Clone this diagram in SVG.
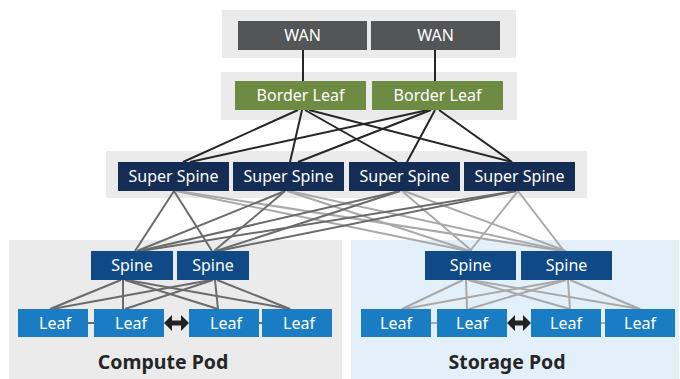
<svg xmlns="http://www.w3.org/2000/svg" width="680" height="379" viewBox="0 0 680 379">
<defs>
<style>
.panel{fill:#ebebeb}
.spanel{fill:#e3f0f9}
.wan{fill:#545556}
.bl{fill:#6e8b44}
.ss{fill:#152d55}
.sp{fill:#0f4a86}
.lf{fill:#1a7dc4}
.t{font-family:"Noto Sans","Liberation Sans",sans-serif;font-size:16px;fill:#fff;text-anchor:middle}
.cap{font-family:"Noto Sans","Liberation Sans",sans-serif;font-size:19.5px;font-weight:bold;fill:#262626;text-anchor:middle}
.dk{stroke:#262626;stroke-width:2;fill:none}
.cg{stroke:#6b6b6b;stroke-width:2;fill:none}
.lg{stroke:#a9a9a9;stroke-width:2;fill:none}
</style>
</defs>
<g id="panels">
<rect class="panel" x="222" y="10" width="294" height="48"/>
<rect class="panel" x="221" y="72" width="296" height="48"/>
<rect class="panel" x="106" y="151" width="481" height="47"/>
<rect class="panel" x="9" y="240" width="333" height="139"/>
<rect class="spanel" x="351" y="240" width="328" height="139"/>
</g>
<g id="connectors">
<line class="dk" x1="303" y1="49" x2="303" y2="81"/>
<line class="dk" x1="435" y1="49" x2="435" y2="81"/>
<line class="dk" x1="298" y1="110" x2="183" y2="162"/>
<line class="dk" x1="302" y1="110" x2="290" y2="162"/>
<line class="dk" x1="305" y1="110" x2="397" y2="162"/>
<line class="dk" x1="309" y1="110" x2="512" y2="162"/>
<line class="dk" x1="428" y1="110" x2="190" y2="162"/>
<line class="dk" x1="431" y1="110" x2="298" y2="162"/>
<line class="dk" x1="435" y1="110" x2="407" y2="162"/>
<line class="dk" x1="439" y1="110" x2="512" y2="162"/>
<line class="lg" x1="176" y1="191" x2="468" y2="251"/>
<line class="lg" x1="178" y1="191" x2="562" y2="251"/>
<line class="lg" x1="287" y1="191" x2="470" y2="251"/>
<line class="lg" x1="289" y1="191" x2="564" y2="251"/>
<line class="lg" x1="402" y1="191" x2="472" y2="251"/>
<line class="lg" x1="404" y1="191" x2="566" y2="251"/>
<line class="lg" x1="518" y1="191" x2="470" y2="251"/>
<line class="lg" x1="518" y1="191" x2="564" y2="251"/>
<line class="cg" x1="174" y1="191" x2="135" y2="251"/>
<line class="cg" x1="174" y1="191" x2="212" y2="251"/>
<line class="cg" x1="285" y1="191" x2="137" y2="251"/>
<line class="cg" x1="285" y1="191" x2="214" y2="251"/>
<line class="cg" x1="400" y1="191" x2="139" y2="251"/>
<line class="cg" x1="400" y1="191" x2="216" y2="251"/>
<line class="cg" x1="516" y1="191" x2="141" y2="251"/>
<line class="cg" x1="516" y1="191" x2="218" y2="251"/>
<line class="cg" x1="121" y1="280" x2="50" y2="309"/>
<line class="cg" x1="123" y1="280" x2="123" y2="309"/>
<line class="cg" x1="125" y1="280" x2="218" y2="309"/>
<line class="cg" x1="127" y1="280" x2="290" y2="309"/>
<line class="cg" x1="211" y1="280" x2="52" y2="309"/>
<line class="cg" x1="213" y1="280" x2="125" y2="309"/>
<line class="cg" x1="215" y1="280" x2="218" y2="309"/>
<line class="cg" x1="217" y1="280" x2="290" y2="309"/>
<line class="lg" x1="463" y1="280" x2="402" y2="309"/>
<line class="lg" x1="466" y1="280" x2="467" y2="309"/>
<line class="lg" x1="468" y1="280" x2="570" y2="309"/>
<line class="lg" x1="470" y1="280" x2="640" y2="309"/>
<line class="lg" x1="564" y1="280" x2="404" y2="309"/>
<line class="lg" x1="566" y1="280" x2="469" y2="309"/>
<line class="lg" x1="568" y1="280" x2="570" y2="309"/>
<line class="lg" x1="570" y1="280" x2="640" y2="309"/>
<line class="cg" x1="88" y1="323" x2="94" y2="323"/>
<line class="cg" x1="259" y1="323" x2="262" y2="323"/>
<line class="lg" x1="431" y1="323" x2="437" y2="323"/>
<line class="lg" x1="601" y1="323" x2="605" y2="323"/>
<path fill="#222" d="M164,323 L172,315 L172,320.5 L181,320.5 L181,315 L189,323 L181,331 L181,325.5 L172,325.5 L172,331 Z"/>
<path fill="#222" d="M507,323 L515,315 L515,320.5 L523,320.5 L523,315 L531,323 L523,331 L523,325.5 L515,325.5 L515,331 Z"/>
</g>
<g id="wan1"><rect class="wan" x="238" y="21" width="129" height="29"/><text class="t" x="302.5" y="41">WAN</text></g>
<g id="wan2"><rect class="wan" x="371" y="21" width="129" height="29"/><text class="t" x="435.5" y="41">WAN</text></g>
<g id="border-leaf-1"><rect class="bl" x="235" y="81" width="131" height="29"/><text class="t" x="300.5" y="101">Border Leaf</text></g>
<g id="border-leaf-2"><rect class="bl" x="372" y="81" width="131" height="29"/><text class="t" x="437.5" y="101">Border Leaf</text></g>
<g id="super-spine-1"><rect class="ss" x="118" y="162" width="111" height="29"/><text class="t" x="173.5" y="182">Super Spine</text></g>
<g id="super-spine-2"><rect class="ss" x="233" y="162" width="111" height="29"/><text class="t" x="288.5" y="182">Super Spine</text></g>
<g id="super-spine-3"><rect class="ss" x="349" y="162" width="111" height="29"/><text class="t" x="404.5" y="182">Super Spine</text></g>
<g id="super-spine-4"><rect class="ss" x="464" y="162" width="111" height="29"/><text class="t" x="519.5" y="182">Super Spine</text></g>
<g id="compute-spine-1"><rect class="sp" x="91" y="251" width="82" height="29"/><text class="t" x="132" y="271">Spine</text></g>
<g id="compute-spine-2"><rect class="sp" x="177" y="251" width="72" height="29"/><text class="t" x="213" y="271">Spine</text></g>
<g id="storage-spine-1"><rect class="sp" x="425" y="251" width="91" height="29"/><text class="t" x="470.5" y="271">Spine</text></g>
<g id="storage-spine-2"><rect class="sp" x="521" y="251" width="91" height="29"/><text class="t" x="566.5" y="271">Spine</text></g>
<g id="compute-leaf-1"><rect class="lf" x="18" y="309" width="70" height="28"/><text class="t" x="55" y="328.5">Leaf</text></g>
<g id="compute-leaf-2"><rect class="lf" x="94" y="309" width="70" height="28"/><text class="t" x="131" y="328.5">Leaf</text></g>
<g id="compute-leaf-3"><rect class="lf" x="189" y="309" width="70" height="28"/><text class="t" x="226" y="328.5">Leaf</text></g>
<g id="compute-leaf-4"><rect class="lf" x="262" y="309" width="70" height="28"/><text class="t" x="299" y="328.5">Leaf</text></g>
<g id="storage-leaf-1"><rect class="lf" x="361" y="309" width="70" height="28"/><text class="t" x="396" y="328.5">Leaf</text></g>
<g id="storage-leaf-2"><rect class="lf" x="437" y="309" width="70" height="28"/><text class="t" x="472" y="328.5">Leaf</text></g>
<g id="storage-leaf-3"><rect class="lf" x="531" y="309" width="70" height="28"/><text class="t" x="566" y="328.5">Leaf</text></g>
<g id="storage-leaf-4"><rect class="lf" x="605" y="309" width="70" height="28"/><text class="t" x="640" y="328.5">Leaf</text></g>
<g id="captions">
<text class="cap" x="163" y="369">Compute Pod</text>
<text class="cap" x="507" y="369">Storage Pod</text>
</g>
</svg>
